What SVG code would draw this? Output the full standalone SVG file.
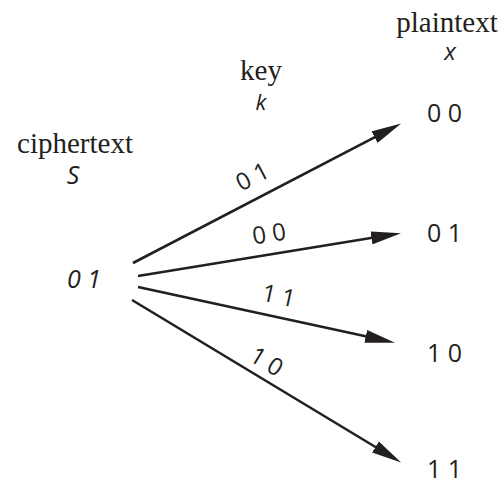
<svg xmlns="http://www.w3.org/2000/svg" width="502" height="485" viewBox="0 0 502 485">
<style>
.serif{font-family:"Liberation Serif","Times New Roman",serif;font-size:29px;fill:#231f20;text-anchor:middle}
.var{font-family:"Open Sans","Noto Sans",sans-serif;font-style:italic;fill:#231f20;text-anchor:middle}
.dig{font-family:"Open Sans","Noto Sans",sans-serif;font-size:25px;fill:#231f20}
.lab{font-family:"Open Sans","Noto Sans",sans-serif;font-size:24px;fill:#231f20;text-anchor:middle}
.edge{stroke:#231f20;stroke-width:2.6;fill:none;marker-end:url(#ah)}
</style>
<defs>
<marker id="ah" markerUnits="userSpaceOnUse" viewBox="0 0 30 13" markerWidth="30" markerHeight="13" refX="1" refY="6.5" orient="auto">
<path d="M0,0 L30,6.5 L0,13 z" fill="#231f20"/>
</marker>
</defs>
<g id="headers">
<text class="serif" x="447" y="32">plaintext</text>
<text class="var" x="450" y="60" font-size="24">x</text>
<text class="serif" x="261" y="80">key</text>
<text class="var" x="261" y="110" font-size="22">k</text>
<text class="serif" x="75" y="153">ciphertext</text>
<text class="var" x="73" y="184" font-size="25">S</text>
</g>
<g id="node-ciphertext">
<text class="var" x="84" y="288" font-size="25">0 1</text>
</g>
<g id="node-p00"><text class="dig" x="427" y="122">0 0</text></g>
<g id="node-p01"><text class="dig" x="427" y="242">0 1</text></g>
<g id="node-p10"><text class="dig" x="427" y="362">1 0</text></g>
<g id="node-p11"><text class="dig" x="427" y="478" font-size="24">1 1</text></g>
<g id="connectors">
<line class="edge" x1="133" y1="263" x2="375.4" y2="136.8"/>
<line class="edge" x1="138" y1="276" x2="372.4" y2="237.8"/>
<line class="edge" x1="138" y1="287" x2="366.7" y2="336.6"/>
<line class="edge" x1="132" y1="300" x2="376.3" y2="447.5"/>
<text class="lab" transform="translate(252,176) rotate(-27.5)" y="9">0 1</text>
<text class="lab" transform="translate(269,233) rotate(-9.2)" y="9">0 0</text>
<text class="lab" transform="translate(279,295) rotate(12.3)" y="9">1 1</text>
<text class="lab" transform="translate(267,361) rotate(31)" y="9">1 0</text>
</g>
</svg>
